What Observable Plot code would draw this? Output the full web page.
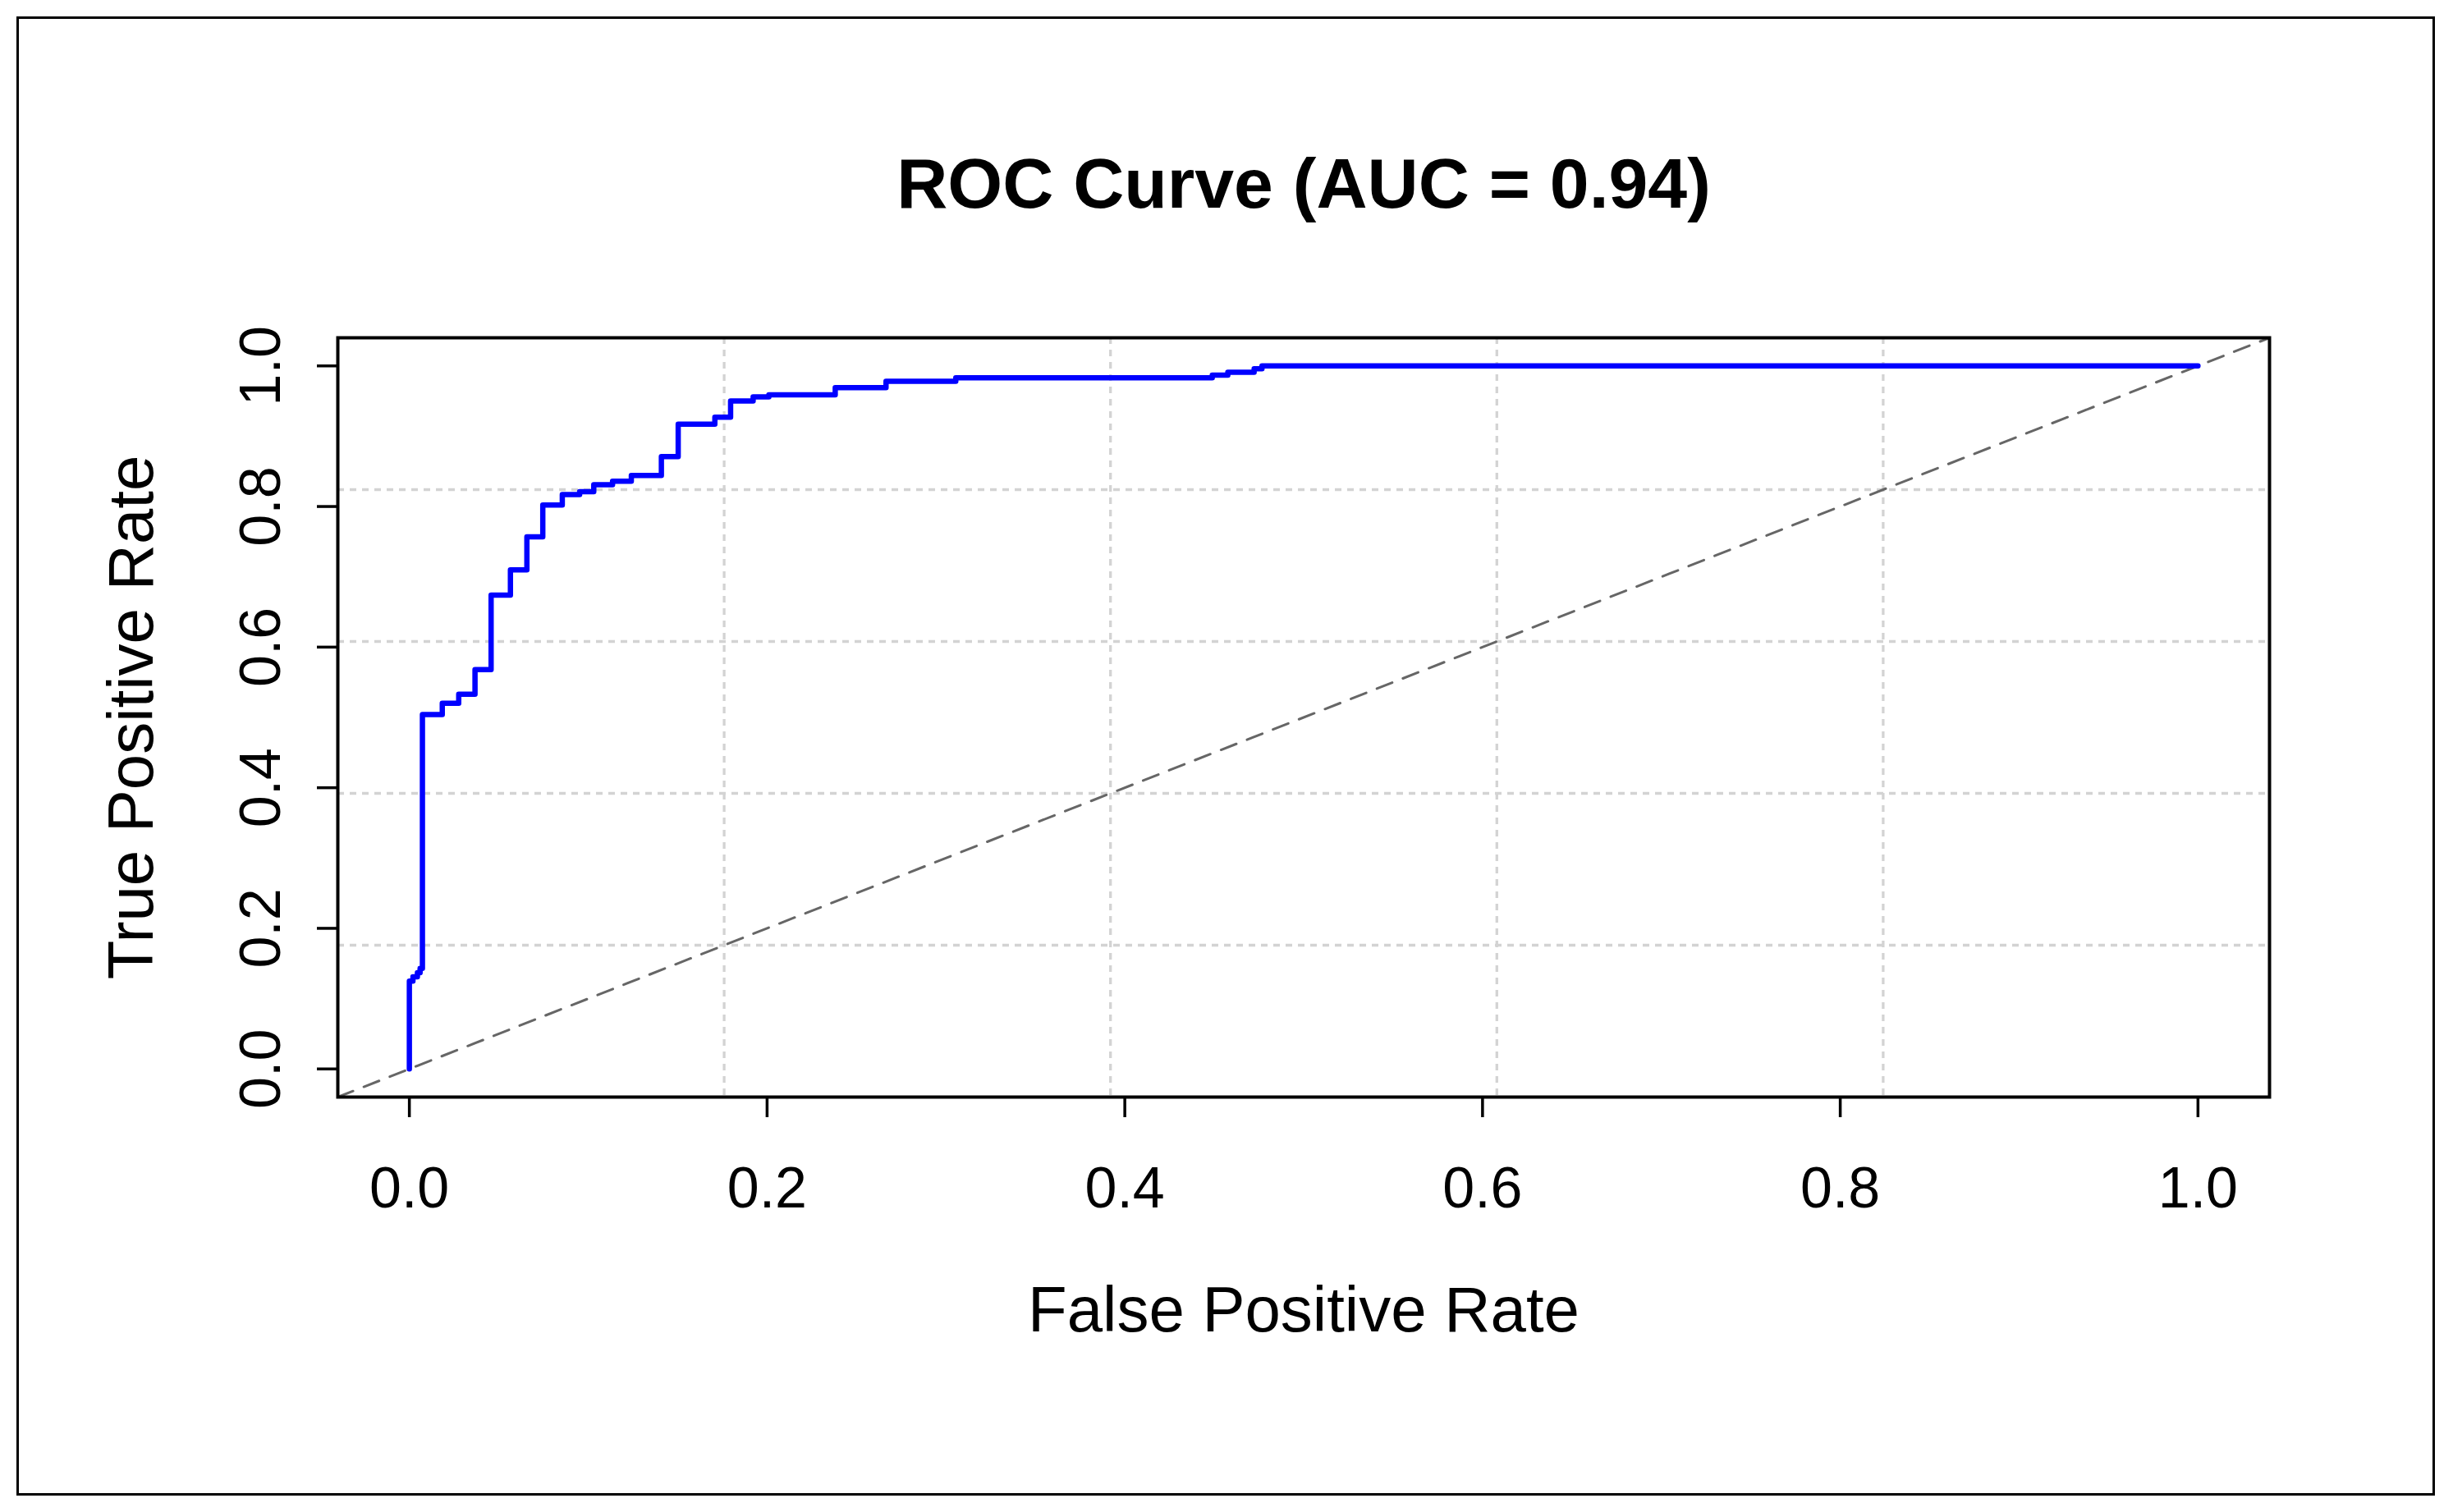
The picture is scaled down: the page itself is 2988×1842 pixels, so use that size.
<!DOCTYPE html>
<html>
<head>
<meta charset="utf-8">
<script src="https://cdn.jsdelivr.net/npm/d3@7"></script>
<script src="https://cdn.jsdelivr.net/npm/@observablehq/plot@0.6"></script>
<style>
  html, body { margin: 0; padding: 0; background: #ffffff; color: #000000; }
  #wrap { position: relative; width: 2988px; height: 1842px; overflow: hidden; }
  #border { position: absolute; left: 20px; top: 20px; width: 2946px; height: 1802px; box-sizing: border-box; border: 3.5px solid #000; pointer-events: none; }
  #chart { position: absolute; left: 0; top: 0; }
</style>
</head>
<body>
<div id="wrap"><div id="chart"></div><div id="border"></div></div>
<script>
// ---- data ----
const titleText = "ROC Curve (AUC = 0.94)";
const xLabel = "False Positive Rate";
const yLabel = "True Positive Rate";

const fpr = [0, 0, 0.002, 0.0045, 0.006, 0.0073, 0.0184, 0.0276, 0.0367, 0.0457, 0.0565, 0.0657, 0.0746, 0.0855, 0.0952, 0.1031, 0.1136, 0.1241, 0.1409, 0.1503, 0.1708, 0.1796, 0.1922, 0.2010, 0.2381, 0.2665, 0.3055, 0.4489, 0.4576, 0.4723, 0.4767, 1.0];
const tpr = [0, 0.125, 0.131, 0.137, 0.143, 0.504, 0.520, 0.533, 0.568, 0.674, 0.710, 0.757, 0.802, 0.817, 0.821, 0.831, 0.836, 0.844, 0.871, 0.917, 0.927, 0.950, 0.956, 0.959, 0.969, 0.978, 0.983, 0.987, 0.991, 0.996, 1.0, 1.0];

const xTicks = [0, 0.2, 0.4, 0.6, 0.8, 1.0];
const yTicks = [0, 0.2, 0.4, 0.6, 0.8, 1.0];
const gridLines = [0.176, 0.392, 0.608, 0.824];
const axisDomain = [-0.04, 1.04];
const diagonal = [-0.04, 1.04];

const roc = fpr.map((f, i) => ({fpr: f, tpr: tpr[i]}));

const chart = Plot.plot({
  width: 2988,
  height: 1842,
  marginLeft: 411,
  marginTop: 411,
  marginRight: 224,
  marginBottom: 506,
  x: {domain: axisDomain, axis: null},
  y: {domain: axisDomain, axis: null},
  style: {fontFamily: "'Liberation Sans', Arial, sans-serif", background: "transparent", color: "#000"},
  marks: [
    Plot.gridX(gridLines, {stroke: "#d3d3d3", strokeOpacity: 1, strokeWidth: 3.3, strokeDasharray: "8,7"}),
    Plot.gridY(gridLines, {stroke: "#d3d3d3", strokeOpacity: 1, strokeWidth: 3.3, strokeDasharray: "8,7"}),
    Plot.line(diagonal, {x: d => d, y: d => d, stroke: "#666666", strokeWidth: 3, strokeDasharray: "20,14"}),
    Plot.line(roc, {x: "fpr", y: "tpr", curve: "step-after", stroke: "#0000ff", strokeWidth: 6.5}),
    Plot.frame({stroke: "#000", strokeWidth: 4}),
    Plot.axisX(xTicks, {tickSize: 25, tickPadding: 60, strokeWidth: 3.5, fontSize: 70, tickFormat: d => d.toFixed(1), label: null}),
    Plot.axisY(yTicks, {tickSize: 25, tickPadding: 46, tickRotate: -90, strokeWidth: 3.5, fontSize: 70, tickFormat: d => d.toFixed(1), label: null}),
    Plot.text([titleText], {text: d => d, frameAnchor: "top", dy: -186, fontSize: 86, fontWeight: "bold", lineAnchor: "middle", fill: "#000"}),
    Plot.text([xLabel], {text: d => d, frameAnchor: "bottom", dy: 261, fontSize: 78, lineAnchor: "middle", fill: "#000"}),
    Plot.text([yLabel], {text: d => d, frameAnchor: "left", dx: -250, rotate: -90, textAnchor: "middle", fontSize: 78, lineAnchor: "middle", fill: "#000"})
  ]
});
document.getElementById("chart").appendChild(chart);
</script>
</body>
</html>
